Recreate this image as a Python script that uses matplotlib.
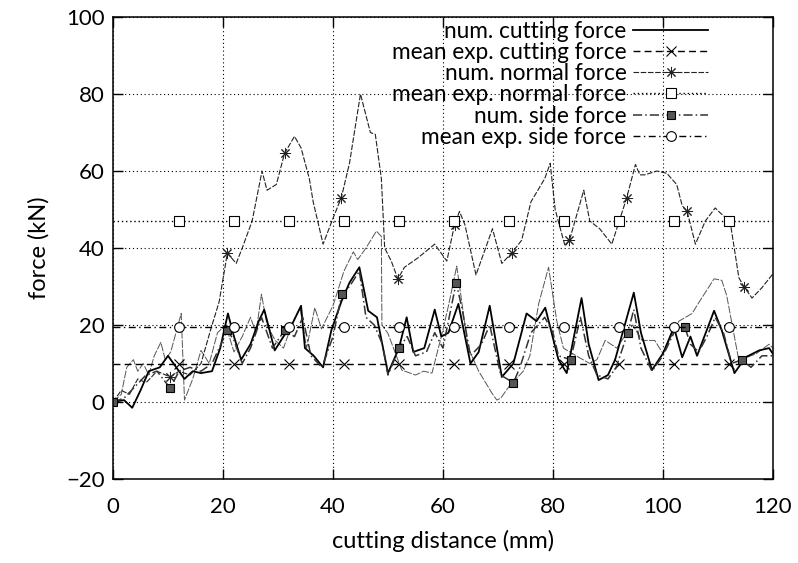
import matplotlib
matplotlib.use('Agg')
import matplotlib.pyplot as plt

plt.rcParams['font.family'] = ['Lato', 'DejaVu Sans']

# num. cutting force (solid)
cut_x = [0, 2, 3.5, 5, 6.5, 8.5, 10, 11.5, 13, 14.5, 16, 18, 19.5, 20.9, 22, 23.3, 25, 26.5, 27.5,
         29.4, 31, 32.5, 34.2, 34.9, 36.5, 38.2, 39.7, 41.5, 43, 44.8, 46.4, 48, 50, 52, 53.4, 54.6,
         56.6, 58.5, 59.7, 61, 62.8, 65, 66.5, 68.5, 70.7, 72.8, 75.2, 77, 78.6, 81, 82.5, 85.2, 86.5,
         88.3, 90, 91.3, 94.7, 96, 98, 100, 102, 103.5, 105, 106.2, 109.3, 110.7, 113, 115, 117.5,
         119.3, 120]
cut_y = [0, 0.5, -1.5, 3, 8, 9, 12, 9, 6, 8, 7.5, 8, 14, 23, 17, 11, 15, 21, 24,
         13.4, 17, 20, 25, 14, 12, 9, 18.6, 26, 31, 35, 23.7, 22, 7.5, 14, 22, 13,
         14, 24, 17, 18, 25.5, 10, 13, 25, 6.5, 10, 23, 21, 24.5, 11, 7.5, 27, 15,
         5.7, 7, 11, 28.4, 18, 8.3, 12.6, 19.4, 11.6, 17, 12, 23.7, 18.6, 7.5, 11.6, 13.4,
         14, 12.5]

# additional thin trace (not in legend)
thin_x = [0, 1.5, 2.5, 3.7, 4.5, 5.5, 6.5, 7.5, 8.7, 9.5, 10.5, 12.4, 13, 14.5, 16, 17.5, 19, 20.5,
          22, 23.5, 25, 26, 27, 28, 29.5, 31, 32.5, 34, 35.2, 36.7, 37.9, 40, 42, 43.7, 44.5, 46,
          47.9, 48.8, 48.9, 50, 52.5, 55, 56.5, 58, 59.7, 61, 62.5, 64.6, 66.5, 68.9, 69.8, 70.5,
          72, 74.6, 75.8, 77.4, 79.2, 80.7, 81.9, 84.7, 86.7, 88, 89.5, 91.6, 93, 94.5, 96.2, 98.5,
          100, 101.5, 102.9, 105.3, 106.6, 109.3, 110.7, 111.6, 113.8, 116.9, 119.3, 120]
thin_y = [0, 2, 9, 11, 8, 10, 7, 12, 15.5, 11, 13, 23, 0.5, 6, 13.4, 10, 18, 20,
          13, 17, 22, 18, 28, 20, 16, 14, 20, 24.5, 14, 24.5, 19, 25, 34, 39, 37, 40,
          44.4, 43, 20, 17.8, 8.3, 7, 8, 7.5, 17, 25, 35.3, 14, 8, 2.3, 0.5, 1,
          4, 8, 12, 25.5, 35, 21, 14, 11.6, 10, 11, 16, 14, 17, 20, 16, 16,
          12.6, 17, 21, 23, 26, 32, 31.6, 27.6, 10.8, 12.5, 15, 14]

# num. normal force
norm_x = [0, 1.5, 3, 4.5, 6, 8, 10.4, 12, 14, 16, 17.8, 19.3, 20.8, 22.4, 23.5, 25.3, 27.1, 28,
          29.7, 31.2, 33, 34.2, 35.7, 36.4, 38.2, 40, 41.5, 43, 45, 46.8, 47.7, 48.8, 49.4, 50.6,
          51.8, 53, 55.5, 58.5, 60.7, 62.1, 63, 64, 66, 69, 70.7, 72.5, 74.3, 76, 78.5, 79.5, 80.4,
          82.2, 83, 85.6, 86.7, 88.5, 90.7, 93.4, 95, 95.8, 96.7, 98.9, 100.7, 102.5, 103.5, 104.4,
          105.9, 107.7, 109.5, 110.5, 112.2, 113.8, 114.7, 116.2, 118, 120]
norm_y = [0, 3, 2, 6, 5, 8, 6.5, 8, 7, 10, 19, 26, 38.7, 36, 40, 47, 60, 55,
          56.5, 64.6, 69, 66, 58, 52, 41, 47.7, 53, 62, 80, 70, 69.5, 58, 40, 36.6,
          32, 35, 37.5, 41, 36.6, 46, 49.5, 46, 33, 45, 36, 38.7, 42, 52, 58, 62, 50,
          40.5, 42, 55, 47, 45, 41, 53, 61.7, 59, 59, 60, 59.4, 56.5, 51, 49.5,
          41, 47, 50.4, 49, 47, 32.3, 30, 27, 29.7, 33.3]
norm_marks = [10.4, 20.8, 31.2, 41.5, 51.8, 62.1, 72.5, 83, 93.4, 104.4, 114.7]

# num. side force
side_x = [0, 2, 4, 6, 8, 10.4, 12, 14, 16, 18, 20.8, 22, 23.5, 25, 27, 29, 31.2, 33, 34.5, 36, 38,
          40, 41.6, 43, 44.8, 46, 47.5, 49, 50, 52, 53.5, 55, 57, 58.5, 60, 62.4, 63.5, 65, 67,
          68.5, 70.5, 72.8, 74, 76, 78.5, 80, 81, 83.2, 85, 86.5, 88, 90, 91.5, 93.6, 94.7, 96, 98,
          100, 102, 104, 105, 106.5, 108, 109.5, 111, 112.5, 114.4, 116, 118, 120]
side_y = [0, 1, 4, 7, 8, 3.6, 8, 9, 8, 10, 18.6, 16, 10, 14, 22, 14, 18.6, 17, 22, 12, 9,
          17, 28, 30, 34, 22, 20, 15, 7, 14, 17, 12, 13, 18, 14, 31, 24, 12, 15,
          20, 7, 5, 9, 18, 22, 18, 12, 11, 22, 12, 7, 6, 9, 18, 24, 14, 8,
          12, 18, 19.4, 15, 13, 17, 22, 18, 10, 11, 9, 12, 12]
side_marks = [0, 10.4, 20.8, 31.2, 41.6, 52, 62.4, 72.8, 83.2, 93.6, 104, 114.4]

# mean experimental forces
mean_x = [0, 12, 22, 32, 42, 52, 62, 72, 82, 92, 102, 112, 120]
mean_cut = 10
mean_norm = 47
mean_side = 19.5

fig = plt.figure(figsize=(7.98, 5.63), dpi=100)
ax = fig.add_axes([0.1416, 0.1492, 0.8270, 0.8206])

ax.plot(thin_x, thin_y, color='#555555', lw=0.7, ls=(0, (8, 1.5)), label='_nolegend_')

ax.plot(cut_x, cut_y, color='black', lw=1.3, label='num. cutting force')
ax.plot(mean_x, [mean_cut] * len(mean_x), color='black', lw=1.0, ls=(0, (5, 3)),
        marker='x', ms=7, mew=0.8, markevery=list(range(1, len(mean_x) - 1)),
        label='mean exp. cutting force')
ax.plot(norm_x, norm_y, color='#222222', lw=0.8, ls=(0, (5, 1.5)),
        marker=(8, 2, 0), ms=8, mew=0.7, markevery=[norm_x.index(m) for m in norm_marks],
        label='num. normal force')
ax.plot(mean_x, [mean_norm] * len(mean_x), color='black', lw=1.0, ls=(0, (1, 2)),
        marker='s', ms=7, mfc='white', mec='black', mew=0.8,
        markevery=list(range(1, len(mean_x) - 1)), label='mean exp. normal force')
ax.plot(side_x, side_y, color='#333333', lw=1.1, ls=(0, (6, 2, 1, 2)),
        marker='s', ms=6, mfc='#555555', mec='black', mew=0.8,
        markevery=[side_x.index(m) for m in side_marks], label='num. side force')
ax.plot(mean_x, [mean_side] * len(mean_x), color='black', lw=1.0, ls=(0, (5, 2.5, 1, 2.5)),
        marker='o', ms=7, mfc='white', mec='black', mew=0.8,
        markevery=list(range(1, len(mean_x) - 1)), label='mean exp. side force')

ax.set_xlim(0, 120)
ax.set_ylim(-20, 100)
ax.set_xticks(range(0, 121, 20))
ax.set_yticks(range(-20, 101, 20))
ax.set_yticklabels(['\u221220', '0', '20', '40', '60', '80', '100'])
ax.tick_params(direction='in', length=7, width=1, top=True, right=True, labelsize=16)
ax.tick_params(axis='x', pad=13)
ax.tick_params(axis='y', pad=6)
ax.grid(True, color='black', ls=(0, (1, 2.5)), lw=0.8)
for s in ax.spines.values():
    s.set_linewidth(1.1)

ax.set_xlabel('cutting distance (mm)', fontsize=17, labelpad=9)
ax.set_ylabel('force (kN)', fontsize=17, labelpad=12)

leg = ax.legend(loc='upper right', bbox_to_anchor=(0.905, 0.997), markerfirst=False, frameon=False,
                fontsize=16.3, handlelength=3.3, handletextpad=0.3, labelspacing=0.01,
                borderaxespad=0, borderpad=0.1)
for t in leg.get_texts():
    t.set_ha('right')

fig.savefig('out.png', dpi=100)
